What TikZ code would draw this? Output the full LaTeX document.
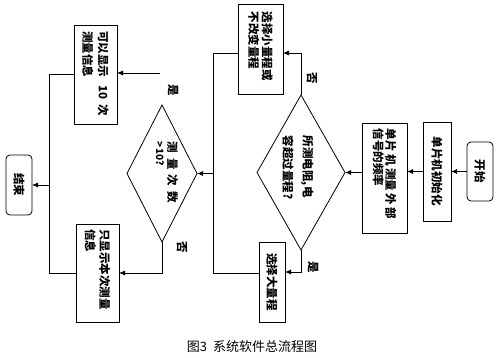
\documentclass[tikz,border=0pt]{standalone}
\usepackage{graphicx}
\usepackage{fontspec}
\usetikzlibrary{shapes.geometric,arrows.meta,calc}
\newfontfamily\cjk{Noto Sans CJK SC}
\newcommand{\rtl}[2]{\rotatebox{-90}{\parbox{#1}{\raggedright\cjk\bfseries\fontsize{11.5}{13.5}\selectfont #2}}}
\newcommand{\rtc}[1]{\rotatebox{-90}{\cjk\bfseries\fontsize{11.5}{13.5}\selectfont #1}}
\begin{document}
\begin{tikzpicture}[x=1pt,y=-1pt,
  box/.style={draw,line width=0.8pt,inner sep=0pt,outer sep=0pt},
  rbox/.style={box,rounded corners=4pt},
  dia/.style={draw,line width=0.8pt,diamond,inner sep=0pt,outer sep=0pt},
  plain/.style={inner sep=0pt,outer sep=0pt},
  conn/.style={line width=0.8pt},
  arr/.style={conn,-{Latex[length=6pt,width=5pt]}}]
\useasboundingbox (0,0) rectangle (500,358);

% boxes
\node[rbox,minimum width=26pt,minimum height=59pt] (start) at (480,171.5) {\rtc{开始}};
\node[box,minimum width=28pt,minimum height=99pt] (init) at (437,171.5) {\rtc{单片机初始化}};
\node[box,minimum width=45pt,minimum height=110pt] (meas) at (384.5,178) {\rotatebox{-90}{\parbox{98pt}{\raggedright\cjk\bfseries\fontsize{11.5}{12.5}\selectfont 单片\hspace{2.5pt}机\hspace{2.5pt}测量\hspace{2.5pt}外\hspace{2.5pt}部\\信号的频率}}};
\node[box,minimum width=45pt,minimum height=90pt] (small) at (260.5,49) {\rtl{74pt}{选择小量程或\\不改变量程}};
\node[box,minimum width=26pt,minimum height=80pt] (big) at (272,282) {\rtc{选择大量程}};
\node[box,minimum width=43pt,minimum height=99pt] (ten) at (95.5,74.5) {\rtl{86pt}{可以显示\hspace{8pt}10\hspace{5pt}次\\[2pt]测量信息}};
\node[box,minimum width=43pt,minimum height=98pt] (once) at (97.5,273) {\rtl{88pt}{只显示本次测量\\[1pt]信息}};
\node[rbox,minimum width=26pt,minimum height=60pt] (end) at (19,185) {\rtc{结束}};

% decisions
\node[dia,minimum width=88pt,minimum height=155pt] (d1) at (301,172.5) {};
\node[plain] (d1t) at (298,172) {\rotatebox{-90}{\parbox{72pt}{\raggedright\cjk\bfseries\fontsize{11.5}{20}\selectfont 所测电阻,电\\容超过量程?}}};
\node[dia,minimum width=70pt,minimum height=137pt] (d2) at (162,173.5) {};
\node[plain] (d2t) at (167,175) {\rotatebox{-90}{\parbox{66pt}{\raggedright\cjk\bfseries\fontsize{11.5}{12}\selectfont 测\hspace{5pt}量\hspace{5pt}次\hspace{5pt}数\\{\fontsize{10}{12}\selectfont >10?}}}};

% branch labels
\node[plain] (n1) at (312,78) {\rtc{否}};
\node[plain] (y1) at (313,267) {\rtc{是}};
\node[plain] (y2l) at (173,90) {\rtc{是}};
\node[plain] (n2) at (182,247) {\rtc{否}};

% caption
\node[plain] (cap) at (252,347) {\cjk\fontsize{13}{15}\selectfont 图3\hspace{6pt}系统软件总流程图};

% junctions
\coordinate (j1) at (213,273);
\coordinate (j2) at (213,53);
\coordinate (k1) at (49,273);
\coordinate (ys) at (160,73);

% connectors
\draw[arr] (start.west) -- (init.east);
\draw[arr] (init.west) -- (init.west -| meas.east);
\draw[arr] (meas.west |- d1.east) -- (d1.east);
\draw[arr] (d1.north) |- ($(small.east)+(0,4)$);
\draw[arr] (d1.south) |- ($(big.east)+(0,-10)$);
\draw[conn] ($(big.west)+(0,-9)$) -- (j1) -- (j2) -- ($(small.west)+(0,4)$);
\draw[arr] (j1 |- d2.east) -- (d2.east);
\draw[arr] (ys) -- (ys -| ten.east);
\draw[arr] (d2.south) |- (once.east);
\draw[conn] (ten.west) -| (k1) -- (once.west);
\draw[arr] (k1 |- end.east) -- (end.east);
\end{tikzpicture}
\end{document}
